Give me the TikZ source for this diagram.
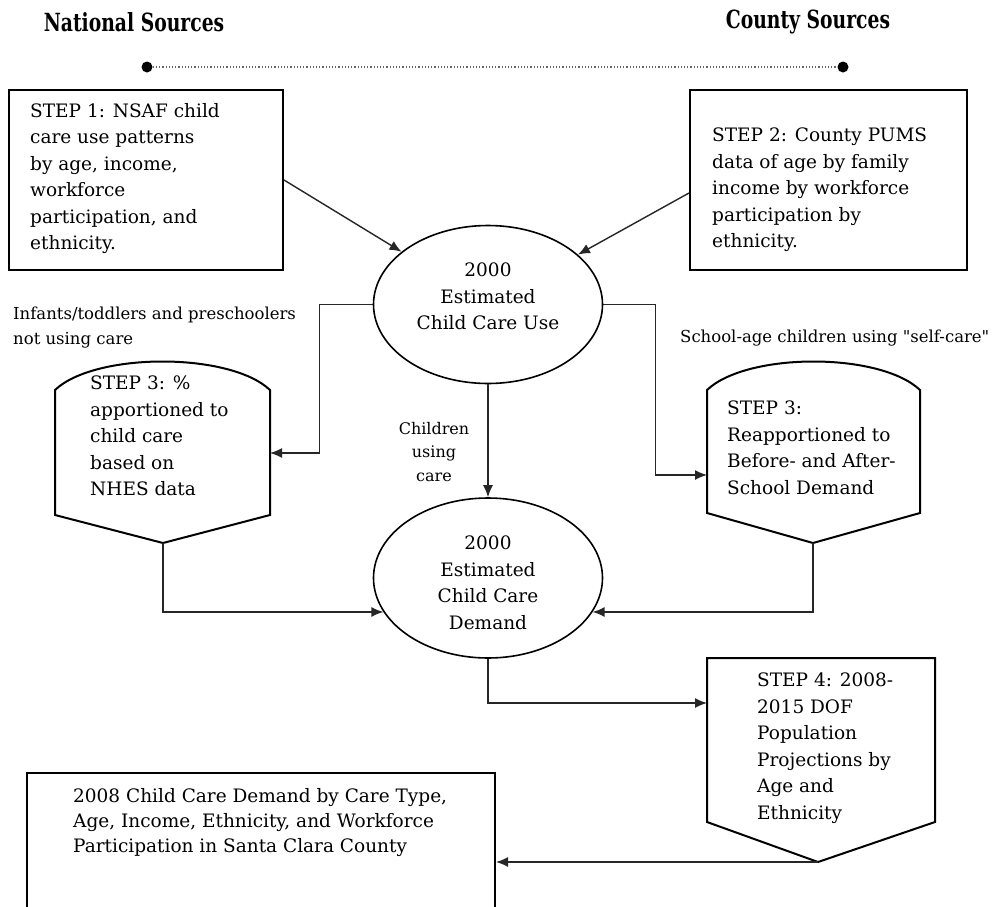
\documentclass[tikz,border=0pt]{standalone}
\usepackage{fontspec}
\setmainfont{DejaVu Serif}[Ligatures=TeXOff]
\usepackage{graphicx}
\usetikzlibrary{shapes.geometric,arrows.meta}

\begin{document}
\begin{tikzpicture}[x=1pt, y=-1pt,
    stepbox/.style={draw=black, line width=2pt},
    steptext/.style={anchor=north west, align=left, inner sep=0pt, font=\fontsize{18.5}{26.5}\selectfont},
    estim/.style={draw=black, line width=1.6pt, ellipse, inner sep=0pt, minimum width=229pt, minimum height=158pt},
    note/.style={align=left, inner sep=0pt, font=\fontsize{16.5}{24.5}\selectfont},
    head/.style={inner sep=0pt, font=\fontsize{25}{30}\selectfont\bfseries},
    flow/.style={draw=black!85, line width=1.4pt, -{Latex[length=12pt,width=10pt]}}]

    \useasboundingbox[fill=white] (0,0) rectangle (997,906);

    % sources
    \node[head] (nat) at (134,22) {\scalebox{0.75}[1]{National Sources}};
    \node[head] (cty) at (808,22) {\scalebox{0.75}[1]{County Sources}};
    \node[circle, fill=black, inner sep=0pt, minimum size=11pt] (natdot) at (147,67) {};
    \node[circle, fill=black, inner sep=0pt, minimum size=11pt] (ctydot) at (843,67) {};
    \draw[black!60, dotted, line width=1.2pt] (natdot) -- (ctydot);

    % step 1 and 2
    \node[stepbox, minimum width=274pt, minimum height=180pt] (s1) at (146,180) {};
    \node[steptext] (s1t) at (30,103) {STEP 1: NSAF child\\care use patterns\\by age, income,\\workforce\\participation, and\\ethnicity.};

    \node[stepbox, minimum width=277pt, minimum height=180pt] (s2) at (828.5,180) {};
    \node[steptext] (s2t) at (712,128) {STEP 2: County PUMS\\data of age by family\\income by workforce\\participation by\\ethnicity.};

    % estimates
    \node[estim] (use) at (488,304.5) {};
    \node[steptext, anchor=north, align=center] (uset) at (488,263) {2000\\Estimated\\Child Care Use};

    \node[estim, minimum height=160pt] (dem) at (488,578) {};
    \node[steptext, anchor=north, align=center] (demt) at (488,536) {2000\\Estimated\\Child Care\\Demand};

    % step 3 (both sides)
    \draw[stepbox] (55,390) .. controls (95,352) and (230,352) .. (270,390) -- (270,515) -- (163,543) -- (55,515) -- cycle;
    \coordinate (s3lin) at (270,453);
    \coordinate (s3ltip) at (163,543);
    \node[steptext] (s3lt) at (90,376) {STEP 3: \%\\apportioned to\\child care\\based on\\NHES data};

    \draw[stepbox] (707,390) .. controls (747,352) and (880,352) .. (920,390) -- (920,513) -- (813,543) -- (707,513) -- cycle;
    \coordinate (s3rin) at (707,475);
    \coordinate (s3rtip) at (813,543);
    \node[steptext] (s3rt) at (727,401) {STEP 3:\\Reapportioned to\\Before- and After-\\School Demand};

    % step 4
    \draw[stepbox] (707,658) -- (935,658) -- (935,822) -- (818,862) -- (707,822) -- cycle;
    \coordinate (s4in) at (707,703);
    \coordinate (s4tip) at (818,862);
    \node[steptext] (s4t) at (757,673) {STEP 4: 2008-\\2015 DOF\\Population\\Projections by\\Age and\\Ethnicity};

    % result
    \node[stepbox, minimum width=468pt, minimum height=140pt] (fin) at (261,843) {};
    \node[steptext, font=\fontsize{18.5}{25}\selectfont] (fint) at (73,788) {2008 Child Care Demand by Care Type,\\Age, Income, Ethnicity, and Workforce\\Participation in Santa Clara County};

    % flow labels
    \node[note, anchor=north west] (notcare) at (13,307) {Infants/toddlers and preschoolers\\not using care};
    \node[note, anchor=north west] (selfcare) at (680,330) {School-age children using "self-care"};
    \node[note, anchor=north, align=center, font=\fontsize{16}{23.5}\selectfont] (using) at (434,422) {Children\\using\\care};

    \draw[flow] (s1.east) -- (use);
    \draw[flow] ([yshift=-13pt]s2.west) -- (use);
    \draw[flow] (use.west) -- ++(-53,0) |- (s3lin);
    \draw[flow] (use.east) -- ++(52,0) |- (s3rin);
    \draw[flow] (use) -- (dem);
    \draw[flow] (s3ltip) |- (dem.198);
    \draw[flow] (s3rtip) |- (dem.342);
    \draw[flow] (dem.south) |- (s4in);
    \draw[flow] (s4tip) -- (s4tip -| fin.east);
\end{tikzpicture}
\end{document}
